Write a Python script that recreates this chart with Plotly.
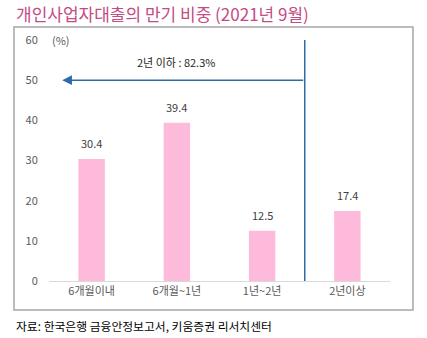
import plotly.graph_objects as go

categories = ["6개월이내", "6개월~1년", "1년~2년", "2년이상"]
shares = [30.4, 39.4, 12.5, 17.4]
y_ticks = [0, 10, 20, 30, 40, 50, 60]
title_text = "개인사업자대출의 만기 비중 (2021년 9월)"
source_text = "자료: 한국은행 금융안정보고서, 키움증권 리서치센터"
arrow_text = "2년 이하 : 82.3%"

FONT = "Noto Sans CJK KR"

fig = go.Figure()
fig.add_trace(go.Bar(
    x=list(range(len(categories))), y=shares,
    marker=dict(color="#FDBADB", line=dict(width=0)),
    width=0.31,
))

for i, v in enumerate(shares):
    fig.add_annotation(x=i, y=v, xref="x", yref="y", text=f"{v:.1f}",
                       showarrow=False, yshift=16,
                       font=dict(size=11, color="#404040", family=FONT))

fig.update_layout(
    width=427, height=338,
    margin=dict(l=49, r=37, t=40, b=57),
    paper_bgcolor="white", plot_bgcolor="white",
    showlegend=False,
    font=dict(family=FONT, size=11, color="#595959"),
    xaxis=dict(
        tickmode="array", tickvals=list(range(len(categories))), ticktext=categories,
        range=[-0.5, 3.5], showline=True, linecolor="#D9D9D9", linewidth=1,
        showgrid=False, zeroline=False, ticks="", ticklen=0,
        tickfont=dict(size=11, color="#595959", family=FONT),
    ),
    yaxis=dict(
        range=[0, 60], tickvals=y_ticks, showgrid=False, zeroline=False,
        showline=False, ticks="outside", ticklen=8, tickcolor="rgba(0,0,0,0)",
        tickfont=dict(size=11, color="#595959", family=FONT),
    ),
)

# outer frame
fig.add_shape(type="rect", xref="paper", yref="paper",
              x0=-0.1026, x1=1.0674, y0=-0.120, y1=1.054,
              line=dict(color="#A6A6A6", width=1.5), layer="below")

# vertical divider
fig.add_shape(type="line", xref="x", yref="y", x0=2.5, x1=2.5, y0=0, y1=60.6,
              line=dict(color="#2E6CA8", width=1.5))

# horizontal arrow
fig.add_annotation(x=-0.345, y=50, ax=2.5, ay=50, xref="x", yref="y",
                   axref="x", ayref="y", text="", showarrow=True,
                   arrowhead=2, arrowsize=1.3, arrowwidth=1.5, arrowcolor="#2E6CA8")
fig.add_annotation(x=0.99, y=54.6, xref="x", yref="y", text=arrow_text,
                   showarrow=False, font=dict(size=11, color="#262626", family=FONT))

# unit
fig.add_annotation(x=0.003, y=60, xref="paper", yref="y", text="(%)",
                   showarrow=False, xanchor="left",
                   font=dict(size=11, color="#595959", family=FONT))

# title
fig.add_annotation(x=-0.1026, y=1.112, xref="paper", yref="paper",
                   text=title_text, showarrow=False, xanchor="left", yanchor="middle",
                   font=dict(size=17, color="#C44B84", family=FONT))

# source
fig.add_annotation(x=-0.1026, y=-0.183, xref="paper", yref="paper",
                   text=source_text, showarrow=False, xanchor="left", yanchor="middle",
                   font=dict(size=11.8, color="#000000", family=FONT))

fig.write_html("out.html")
